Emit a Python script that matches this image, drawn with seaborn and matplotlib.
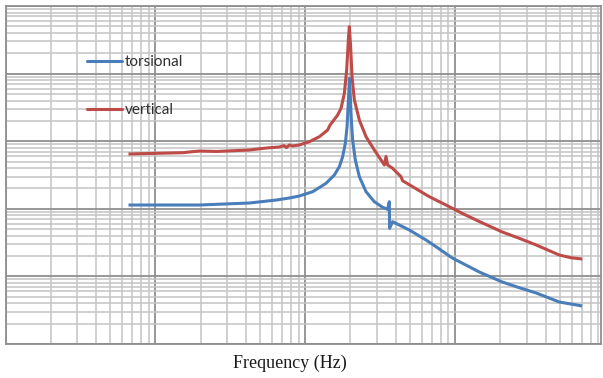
import numpy as np
import pandas as pd
import matplotlib
matplotlib.use("Agg")
import matplotlib.pyplot as plt
from matplotlib.ticker import LogLocator, NullFormatter
from matplotlib.lines import Line2D
import seaborn as sns

# ---- data ----
torsional_freq = [0.661, 1.965, 4.233, 6.408, 7.82, 9.12, 11.19, 13.74, 15.61, 16.85,
                  17.73, 18.48, 18.97, 19.27, 19.56, 19.65, 19.95, 20.26, 20.67, 21.54,
                  22.91, 25.39, 28.84, 32.75, 35.37, 36.31, 36.45, 38.19, 49.36, 63.78,
                  74.36, 95.5, 144.5, 205.8, 267.1, 346.7, 493.6, 702.5]
torsional_amp = [1.138e-4, 1.138e-4, 1.218e-4, 1.349e-4, 1.445e-4, 1.547e-4, 1.790e-4,
                 2.384e-4, 3.162e-4, 4.195e-4, 5.898e-4, 9.310e-4, 1.639e-3, 3.239e-3,
                 6.401e-3, 8.521e-3, 4.553e-3, 2.059e-3, 1.042e-3, 5.271e-4, 2.984e-4,
                 1.790e-4, 1.274e-4, 1.052e-4, 9.831e-5, 1.274e-4, 5.145e-5, 6.446e-5,
                 4.858e-5, 3.455e-5, 2.750e-5, 1.872e-5, 1.162e-5, 8.264e-6, 6.806e-6,
                 5.681e-6, 4.182e-6, 3.649e-6]

vertical_freq = [0.661, 1.514, 1.965, 2.551, 4.233, 5.495, 6.71, 7.20, 7.47, 7.82, 8.20,
                 9.12, 10.63, 12.40, 14.08, 14.61, 15.21, 16.42, 17.30, 18.20, 18.86,
                 19.35, 19.65, 20.04, 20.48, 21.22, 22.91, 25.39, 28.84, 31.96, 33.63,
                 34.51, 35.37, 38.19, 39.20, 43.45, 44.53, 51.92, 67.08, 86.70, 111.9,
                 144.5, 205.8, 267.1, 346.7, 493.6, 593.4, 702.5]
vertical_amp = [6.47e-4, 6.76e-4, 7.16e-4, 7.05e-4, 7.41e-4, 7.93e-4, 8.21e-4, 8.60e-4,
                8.05e-4, 8.79e-4, 8.50e-4, 8.786e-4, 9.831e-4, 1.1656e-3, 1.465e-3,
                1.736e-3, 1.943e-3, 2.441e-3, 3.067e-3, 5.111e-3, 1.1303e-2, 3.141e-2,
                4.941e-2, 2.500e-2, 8.999e-3, 4.069e-3, 2.059e-3, 1.1656e-3, 7.410e-4,
                5.271e-4, 4.446e-4, 5.939e-4, 4.446e-4, 3.972e-4, 3.749e-4, 2.984e-4,
                2.600e-4, 2.123e-4, 1.510e-4, 1.138e-4, 8.500e-5, 6.490e-5, 4.538e-5,
                3.660e-5, 2.914e-5, 2.073e-5, 1.885e-5, 1.809e-5]

series_names = ["torsional", "vertical"]
colors = {"torsional": "#4a7ebb", "vertical": "#be4b48"}
x_label = "Frequency (Hz)"

# ---- build long-form table ----
df = pd.concat([
    pd.DataFrame({"freq": torsional_freq, "amp": torsional_amp, "series": "torsional"}),
    pd.DataFrame({"freq": vertical_freq, "amp": vertical_amp, "series": "vertical"}),
], ignore_index=True)

sns.set_style("white")
W, H = 603, 378
fig = plt.figure(figsize=(W / 100, H / 100), dpi=100)
ax = fig.add_axes([5.5 / W, (H - 344) / H, 595 / W, 338 / H])

ax.set_xscale("log")
ax.set_yscale("log")
sns.lineplot(data=df, x="freq", y="amp", hue="series", palette=colors,
             hue_order=series_names, estimator=None, sort=False, units="series",
             linewidth=2.2, legend=False, ax=ax)
for ln in ax.get_lines():
    ln.set_solid_joinstyle("round")
    ln.set_solid_capstyle("butt")

ax.set_xlim(0.1, 930)
ax.set_ylim(1e-6, 1e-1)

for axis in (ax.xaxis, ax.yaxis):
    axis.set_major_locator(LogLocator(base=10, numticks=20))
    axis.set_minor_locator(LogLocator(base=10, subs=np.arange(2, 10), numticks=20))
    axis.set_major_formatter(NullFormatter())
    axis.set_minor_formatter(NullFormatter())
ax.tick_params(which="both", length=0)
ax.grid(which="major", color="#8f8f8f", linewidth=1.3)
ax.grid(which="minor", color="#c4c4c4", linewidth=1.1)
ax.set_axisbelow(True)
ax.set_xlabel("")
ax.set_ylabel("")
for sp in ax.spines.values():
    sp.set_color("#8f8f8f")
    sp.set_linewidth(1.3)

handles = [Line2D([], [], color=colors[s], linewidth=2.2) for s in series_names]
leg = ax.legend(handles, series_names, loc="upper left",
                bbox_to_anchor=(87 / W, 1 - 55 / H), bbox_transform=fig.transFigure,
                frameon=False, borderpad=0, borderaxespad=0,
                handlelength=2.3, handletextpad=0.15, labelspacing=2.23,
                prop={"family": "Lato", "size": 11})
for t in leg.get_texts():
    t.set_color("#303030")

fig.text(290 / W, 1 - 363 / H, x_label, ha="center", va="center",
         family="Liberation Serif", fontsize=13, color="#1a1a1a")

fig.savefig("out.png", dpi=100)
